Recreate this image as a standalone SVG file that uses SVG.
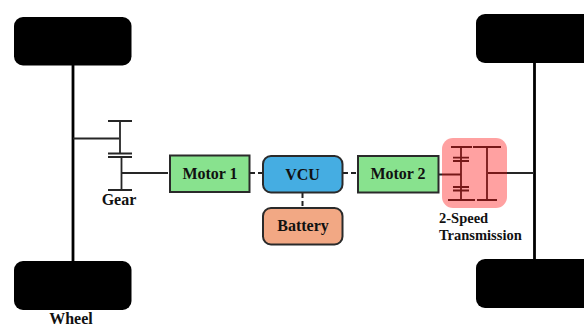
<svg xmlns="http://www.w3.org/2000/svg" width="584" height="327" viewBox="0 0 584 327">
<style>
.w{fill:#000}
.l{stroke:#262626;stroke-width:1.800;fill:none}
.a{stroke:#000;stroke-width:2.800;fill:none}
.d{stroke:#222;stroke-width:2;fill:none;stroke-dasharray:5 3}
.b{stroke:#2a2a2a;stroke-width:2}
text{font-family:"Liberation Serif",serif;font-weight:700;fill:#111;text-anchor:middle}
.t{font-size:16px}
.s{font-size:14.500px}
.g{font-size:16px}
</style>
<rect width="584" height="327" fill="#fff"/>
<g id="connectors">
<path class="a" d="M73 65V261M534.500 63V259"/>
<path class="l" d="M108 121H132M120 121V153M73 138.500H119M108 153.500H132M108 157H132M121.500 157V190M108 190H132M122 173H168"/>
<path class="d" d="M250 173H262M343 173H357M302.500 193V207"/>
<path class="l" d="M451 147H472M473 147H501M461 147V200M487 147V200M453 157.700H469M453 161H469M453 187H469M453 190.500H469M448 200H475M477 200H497M439 174.500H461M488 173H534"/>
</g>
<g id="wheel-fl"><rect class="w" x="14" y="17" width="117.500" height="48.500" rx="9"/></g>
<g id="wheel-rl"><rect class="w" x="14" y="261" width="117.500" height="49" rx="9"/></g>
<g id="wheel-fr"><rect class="w" x="476" y="14" width="120" height="49" rx="9"/></g>
<g id="wheel-rr"><rect class="w" x="476" y="259" width="120" height="49" rx="9"/></g>
<g id="motor1"><rect class="b" x="170" y="155.500" width="79.500" height="36.500" fill="#88e28e"/><text class="t" x="210" y="178.500">Motor 1</text></g>
<g id="vcu"><rect class="b" x="263" y="156" width="79.500" height="36.500" rx="8" fill="#45ade2"/><text class="t" x="302.500" y="179.500">VCU</text></g>
<g id="motor2"><rect class="b" x="358" y="156" width="80.500" height="36.500" fill="#88e28e"/><text class="t" x="398" y="178.500">Motor 2</text></g>
<g id="battery"><rect class="b" x="263" y="208" width="79.500" height="36.500" rx="8" fill="#f2a884"/><text class="t" x="303" y="230.500">Battery</text></g>
<g id="transmission"><rect x="442" y="138" width="65" height="70" rx="11" fill="#ff0000" fill-opacity=".37"/><text class="s" x="439" y="223" style="text-anchor:start">2-Speed</text><text class="s" x="439" y="240" style="text-anchor:start">Transmission</text></g>
<g id="gear"><text class="g" x="119" y="205">Gear</text></g>
<g id="wheel-label"><text class="g" x="71" y="323.500">Wheel</text></g>
</svg>
